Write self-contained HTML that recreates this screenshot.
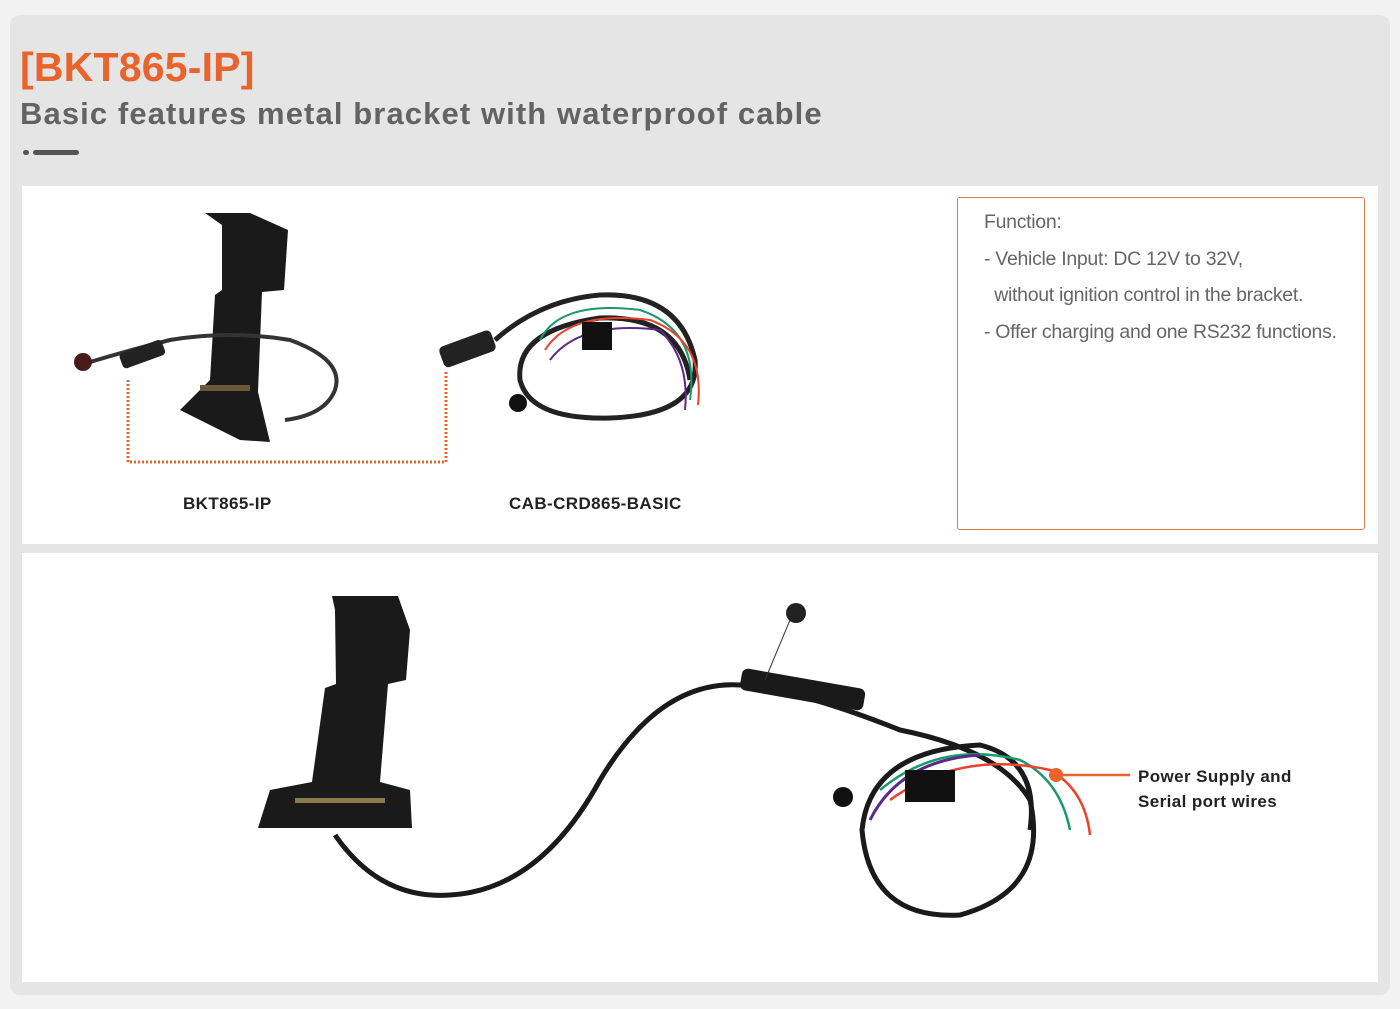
<!DOCTYPE html>
<html><head><meta charset="utf-8"><style>
body{margin:0;width:1400px;height:1009px;background:#f2f2f2;position:relative;overflow:hidden;font-family:"Liberation Sans",sans-serif}
.panel{position:absolute;left:10px;top:15px;width:1380px;height:980px;background:#e5e5e5;border-radius:10px}
.t1{position:absolute;left:20px;top:42px;font-size:41px;font-weight:bold;color:#e8642c;line-height:50px;letter-spacing:0.2px}
.t2{position:absolute;left:20px;top:94px;font-size:31px;font-weight:bold;color:#636363;line-height:40px;letter-spacing:1.1px}
.box{position:absolute;left:22px;width:1356px;background:#fff}
.fn{position:absolute;left:957px;top:197px;width:406px;height:331px;border:1px solid #e07a4c;border-radius:3px;color:#666;font-size:19.5px;line-height:36.5px;letter-spacing:-0.3px}
.lbl{position:absolute;font-size:17px;font-weight:bold;color:#222;letter-spacing:0.4px}
</style></head><body>
<div class="panel"></div>
<div class="t1">[BKT865-IP]</div>
<div class="t2">Basic features metal bracket with waterproof cable</div>
<div style="position:absolute;left:23px;top:150px;width:6px;height:5px;border-radius:3px;background:#555"></div>
<div style="position:absolute;left:33px;top:150px;width:46px;height:5px;border-radius:3px;background:#555"></div>
<div class="box" style="top:186px;height:358px"></div>
<div class="box" style="top:553px;height:429px"></div>
<div class="fn"><div style="position:absolute;left:26px;top:6px;white-space:nowrap">Function:<br>- Vehicle Input: DC 12V to 32V,<br>&nbsp; without ignition control in the bracket.<br>- Offer charging and one RS232 functions.</div></div>
<div class="lbl" style="left:183px;top:494px">BKT865-IP</div>
<div class="lbl" style="left:509px;top:494px">CAB-CRD865-BASIC</div>
<div class="lbl" style="left:1138px;top:764px;line-height:25px">Power Supply and<br>Serial port wires</div>
<svg width="1400" height="1009" style="position:absolute;left:0;top:0">
<path d="M128 380 V462 H446 V370" fill="none" stroke="#e8642c" stroke-width="3" stroke-dasharray="2 2"/>
<path d="M205 213 H250 L288 230 L284 290 L262 292 L258 392 L270 442 L240 440 L180 410 L210 380 L215 295 L222 290 L222 225 Z" fill="#1a1a1a"/>
<rect x="200" y="385" width="50" height="6" fill="#6a5a3a"/>
<path d="M90 362 Q130 350 170 340 Q230 330 290 340 Q345 360 335 390 Q325 415 285 420" fill="none" stroke="#333" stroke-width="4"/>
<rect x="120" y="347" width="45" height="16" rx="4" fill="#222" transform="rotate(-20 140 355)"/>
<circle cx="83" cy="362" r="9" fill="#4a1a1a"/>
<rect x="440" y="338" width="55" height="22" rx="5" fill="#222" transform="rotate(-20 467 349)"/>
<path d="M495 340 Q540 300 600 295 Q680 292 695 360 Q700 415 610 418 Q530 420 520 380 Q515 330 600 318 Q680 315 690 380" fill="none" stroke="#222" stroke-width="5"/>
<path d="M540 340 Q560 300 640 310 Q700 330 690 400" fill="none" stroke="#1a9a6a" stroke-width="2"/>
<path d="M545 350 Q570 310 650 320 Q705 340 698 405" fill="none" stroke="#e8432c" stroke-width="2"/>
<path d="M550 360 Q580 320 660 330 Q690 360 685 410" fill="none" stroke="#5a2a8a" stroke-width="2"/>
<rect x="582" y="322" width="30" height="28" fill="#111"/>
<circle cx="518" cy="403" r="9" fill="#111"/>
<path d="M332 596 H398 L410 630 L406 680 L388 684 L380 782 L410 790 L412 828 L258 828 L270 790 L312 782 L325 688 L336 684 L335 610 Z" fill="#1a1a1a"/>
<rect x="295" y="798" width="90" height="5" fill="#8a7a4a"/>
<path d="M335 835 Q380 900 450 895 Q540 890 600 780 Q660 680 740 685 Q800 690 900 730 Q1000 750 1030 800 Q1050 890 960 915 Q870 920 862 830 Q870 750 980 745 Q1040 760 1030 830" fill="none" stroke="#1a1a1a" stroke-width="5"/>
<rect x="740" y="678" width="125" height="22" rx="6" fill="#1a1a1a" transform="rotate(10 800 690)"/>
<path d="M880 790 Q940 740 1020 760 Q1060 780 1070 830" fill="none" stroke="#1a9a6a" stroke-width="2.5"/>
<path d="M890 800 Q960 750 1050 770 Q1085 790 1090 835" fill="none" stroke="#e8432c" stroke-width="2.5"/>
<path d="M870 820 Q900 760 980 755" fill="none" stroke="#5a2a8a" stroke-width="3"/>
<rect x="905" y="770" width="50" height="32" fill="#111"/>
<circle cx="843" cy="797" r="10" fill="#111"/>
<circle cx="796" cy="613" r="10" fill="#222"/>
<path d="M790 620 L765 680" stroke="#333" stroke-width="1"/>
<line x1="1056" y1="775" x2="1130" y2="775" stroke="#e8642c" stroke-width="2.5"/>
<circle cx="1056" cy="775" r="7" fill="#e8642c"/>
</svg>
</body></html>
